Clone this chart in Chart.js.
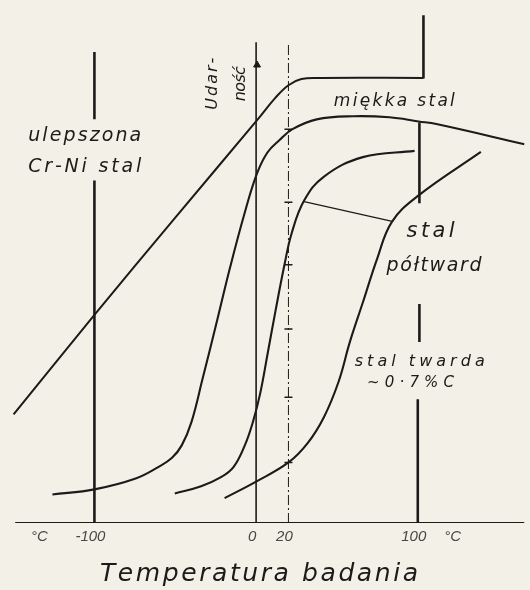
<!DOCTYPE html>
<html>
<head>
<meta charset="utf-8">
<script src="https://cdn.jsdelivr.net/npm/chart.js@4"></script>
<style>
  html, body { margin: 0; padding: 0; background: #f3f0e7; }
  #chart { display: block; }
</style>
</head>
<body>
<canvas id="chart" width="530" height="590"></canvas>
<script>
// Udarność w funkcji temperatury badania (skala umowna)
const tempTicks = [-100, 0, 20, 100];
const tickLabels = ['-100', '0', '20', '100'];

// ulepszona Cr-Ni stal
const crNiTemp = [-150, -100, -50, 1, 12, 20, 28, 40, 103.5];
const crNiVal = [21, 40.2, 59, 78, 82.2, 84.6, 85.8, 86, 86];

// miękka stal
const mildTemp = [-126, -100, -74.5, -60, -52, -46, -40, -33, -25, -16, -7, 0.5, 7, 14.5, 22.5, 37.5, 60, 82.5, 100.5, 111.5, 166];
const mildVal = [5.5, 6.5, 8.6, 10.9, 12.6, 15, 19.5, 28, 38, 49.5, 60, 67.5, 71.6, 74, 76.1, 78, 78.6, 78.4, 77.6, 77.1, 73.2];

// stal półtwarda
const semiTemp = [-50.3, -34, -22, -14, -7, -2, 2.5, 7, 12, 17.6, 22, 29.7, 41.8, 66, 98];
const semiVal = [5.7, 7.1, 8.8, 10.8, 15, 19.5, 25, 32.5, 41, 50, 56, 62.3, 66.9, 70.7, 71.9];

// stal twarda ~0,7% C
const hardTemp = [-19.5, 0, 20, 32, 42, 51, 58, 66, 75, 84, 100.5, 139];
const hardVal = [4.8, 8, 11.7, 15.5, 20.5, 27.3, 35, 42.6, 51.2, 58.2, 63.3, 71.7];

// odczyty przy 20 °C
const at20Val = [76.1, 62, 49.9, 37.5, 24.3, 11.7];

// kreska wskazująca od napisu "stal półtward"
const pointerTemp = [29.7, 84.2];
const pointerVal = [62.1, 58.3];

// pionowe linie (temp, od, do) - przerwy na napisy
const lineMinus100 = [[-100, 91, 78], [-100, 66.2, 0]];
const line100 = [[103.5, 98.1, 85.9], [101, 77.4, 61.8], [101, 42.3, 35.0], [100, 23.9, 0]];
const yAxisTop = 92.9;
const dashedTop = 92.7;
const xAxisFrom = -149;

const INK = '#1c1b19';
const toPts = (xs, ys) => xs.map((x, i) => ({ x: x, y: ys[i] }));

function curve(xs, ys, width) {
    return {
        data: toPts(xs, ys),
        showLine: true,
        borderColor: INK,
        borderWidth: width || 2,
        pointRadius: 0,
        tension: 0.4,
        fill: false
    };
}

function straight(pts, width, dash) {
    return {
        data: pts,
        showLine: true,
        borderColor: INK,
        borderWidth: width,
        borderDash: dash || [],
        pointRadius: 0,
        tension: 0,
        fill: false
    };
}

const datasets = [
    curve(crNiTemp, crNiVal, 2),
    curve(mildTemp, mildVal, 2.1),
    curve(semiTemp, semiVal, 2.1),
    curve(hardTemp, hardVal, 2.1),
    straight(toPts(pointerTemp, pointerVal), 1.2),
    straight([{ x: xAxisFrom, y: 0 }, { x: 166, y: 0 }], 2),
    straight([{ x: 0, y: 0 }, { x: 0, y: yAxisTop }], 1.6),
    straight([{ x: 20, y: 0 }, { x: 20, y: dashedTop }], 1, [10, 3, 2, 3])
];
lineMinus100.concat(line100).forEach(s => {
    datasets.push(straight([{ x: s[0], y: s[1] }, { x: s[0], y: s[2] }], 2.6));
});
// strzałka osi udarności
datasets.push({
    data: [{ x: 0.6, y: 88.5 }],
    pointStyle: 'triangle',
    pointRadius: 4,
    backgroundColor: INK,
    borderColor: INK,
    borderWidth: 1
});
// kreski odczytów przy 20 °C
datasets.push({
    data: at20Val.map(v => ({ x: 20, y: v })),
    pointStyle: 'line',
    pointRadius: 4,
    borderColor: INK,
    borderWidth: 1.5
});

// napisy: tekst, środek (temp, udarność), szerokość px, rozmiar, obrót
const notes = [
    { text: 'ulepszona', x: -106, y: 74.8, w: 113, size: 19 },
    { text: 'Cr-Ni stal', x: -106, y: 68.8, w: 113, size: 19 },
    { text: 'Udar-', x: -26.5, y: 84.9, w: 52, size: 16, rot: true },
    { text: 'ność', x: -9.7, y: 84.9, w: 35, size: 16, rot: true },
    { text: 'miękka stal', x: 85.5, y: 81.4, w: 121, size: 17 },
    { text: 'stal', x: 107.9, y: 56.4, w: 48, size: 21 },
    { text: 'półtward', x: 110, y: 49.7, w: 95, size: 19 },
    { text: 'stal twarda', x: 101.2, y: 31.2, w: 130, size: 16 },
    { text: '~0·7%C', x: 95.5, y: 27, w: 87, size: 15 },
    { text: 'Temperatura badania', x: 1.8, y: -9.9, w: 318, size: 25 }
];

function drawSpread(ctx, text, cx, cy, w) {
    const chars = [...text];
    const widths = chars.map(c => ctx.measureText(c).width);
    const total = widths.reduce((a, b) => a + b, 0);
    const gap = chars.length > 1 ? (w - total) / (chars.length - 1) : 0;
    let x = cx - w / 2;
    chars.forEach((c, i) => {
        ctx.fillText(c, x, cy);
        x += widths[i] + gap;
    });
}

const paperPlugin = {
    id: 'paper',
    beforeDraw(chart) {
        const ctx = chart.ctx;
        ctx.save();
        ctx.fillStyle = '#f3f0e7';
        ctx.fillRect(0, 0, chart.width, chart.height);
        ctx.restore();
    },
    afterDatasetsDraw(chart) {
        const ctx = chart.ctx;
        const xs = chart.scales.x, ys = chart.scales.y;
        ctx.save();
        ctx.textBaseline = 'middle';
        ctx.textAlign = 'left';
        ctx.fillStyle = INK;
        notes.forEach(n => {
            const px = xs.getPixelForValue(n.x), py = ys.getPixelForValue(n.y);
            ctx.font = 'italic ' + n.size + 'px "DejaVu Sans"';
            if (n.rot) {
                ctx.save();
                ctx.translate(px, py);
                ctx.rotate(-Math.PI / 2);
                drawSpread(ctx, n.text, 0, 0, n.w);
                ctx.restore();
            } else {
                drawSpread(ctx, n.text, px, py, n.w);
            }
        });

        // opisy osi temperatur
        const ty = ys.getPixelForValue(-2.7);
        ctx.font = 'italic 15px "Liberation Sans Narrow", "Liberation Sans"';
        ctx.fillStyle = '#4a4844';
        ctx.textAlign = 'center';
        tempTicks.forEach((t, i) => {
            ctx.fillText(tickLabels[i], xs.getPixelForValue(t) - 4, ty);
        });
        ctx.fillText('°C', xs.getPixelForValue(-134), ty);
        ctx.fillText('°C', xs.getPixelForValue(121.5), ty);
        ctx.restore();
    }
};

new Chart(document.getElementById('chart'), {
    type: 'scatter',
    data: { datasets: datasets },
    options: {
        responsive: false,
        animation: false,
        layout: { padding: { left: 0, right: 0, top: 0, bottom: 67 } },
        plugins: {
            legend: { display: false },
            tooltip: { enabled: false }
        },
        scales: {
            x: { type: 'linear', min: -155, max: 166, display: false },
            y: { type: 'linear', min: 0, max: 100, display: false }
        }
    },
    plugins: [paperPlugin]
});
</script>
</body>
</html>
